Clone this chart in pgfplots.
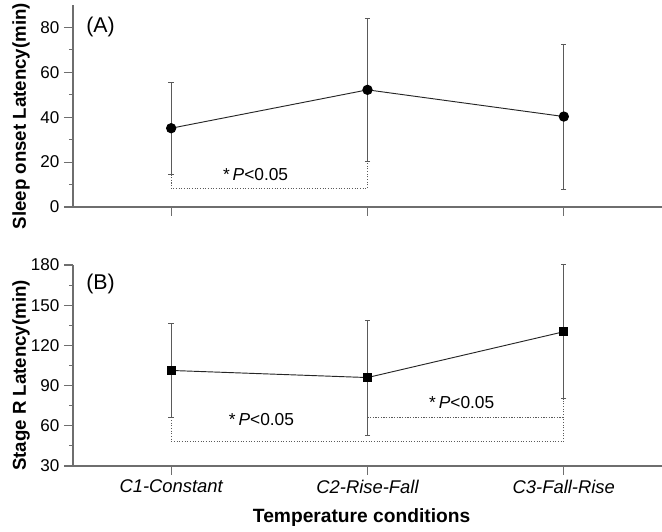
\documentclass[border=0pt]{standalone}
\usepackage{fontspec}
\setmainfont{Liberation Sans}
\setsansfont{Liberation Sans}
\usepackage{pgfplots}
\pgfplotsset{compat=1.18}

\definecolor{axisgray}{HTML}{6E6E6E}
\definecolor{bargray}{HTML}{5A5A5A}

\pgfplotsset{
  panel/.style={
    scale only axis,
    width=441.75pt,
    xmin=0.5, xmax=3.5,
    axis x line*=bottom, axis y line*=left,
    axis line style={axisgray, line width=0.8pt, -},
    tick align=outside,
    major tick length=6.75pt, minor tick length=3pt,
    every tick/.style={axisgray, line width=0.8pt},
    xtick={1,2,3},
    minor y tick num=1,
    tick label style={font=\fontsize{12.8}{14}\selectfont},
    /pgf/number format/assume math mode=true,
    clip=false,
    ylabel style={font=\fontsize{14}{16}\selectfont\bfseries,
      at={(axis description cs:-0.088,0.45)}, anchor=center},
  },
  ebar/.style={forget plot, bargray, only marks, mark=none,
    error bars/.cd, y dir=both, y explicit,
    error bar style={line width=0.8pt, bargray}},
  sig/.style={bargray, line width=0.8pt, dash pattern=on 0.8pt off 1.2pt},
}
\tikzset{
  pnote/.style={font=\fontsize{13}{15}\selectfont},
  plabel/.style={font=\fontsize{16}{18}\selectfont},
}

\begin{document}
\begin{tikzpicture}
\path[use as bounding box] (-54.75pt,-49.5pt) rectangle (441.75pt,349.5pt);

% (A) sleep onset latency
\begin{axis}[panel,
  at={(0pt,194.25pt)}, anchor=south west,
  height=151.5pt,
  ymin=0, ymax=90,
  ytick={0,20,40,60,80},
  xticklabels={},
  ylabel={Sleep onset Latency(min)},
]
\addplot[ebar] coordinates {
  (1,35.1) +- (0,20.5)
  (2,52.2) +- (0,32.0)
  (3,40.3) +- (0,32.2)
};
\addplot[sig] coordinates {(1,14.5) (1,8.3) (2,8.3) (2,20.2)};
\addplot[black!85, line width=0.7pt, mark=*, mark size=3.5pt,
  mark options={black, solid}] coordinates {
  (1,35.1) (2,52.2) (3,40.3)
};
\node[pnote] at (axis cs:1.43,14.5) {*\,\textit{P}<0.05};
\node[plabel] at (axis cs:0.64,80) {(A)};
\end{axis}

% (B) stage R latency
\begin{axis}[panel,
  at={(0pt,0pt)}, anchor=south west,
  height=150.75pt,
  ymin=30, ymax=180,
  ytick={30,60,90,120,150,180},
  xticklabels={C1-Constant, C2-Rise-Fall, C3-Fall-Rise},
  xticklabel style={font=\fontsize{13.8}{15}\selectfont\itshape},
  xlabel={Temperature conditions},
  xlabel style={font=\fontsize{14.4}{16}\selectfont\bfseries,
    at={(axis description cs:0.49,-0.255)}, anchor=center},
  ylabel={Stage R Latency(min)},
]
\addplot[ebar] coordinates {
  (1,101.3) +- (0,35.0)
  (2,96.0) +- (0,42.7)
  (3,130.2) +- (0,50.0)
};
\addplot[sig] coordinates {(1,66.3) (1,48.5) (3,48.5) (3,80.2)};
\addplot[sig] coordinates {(2,66.3) (3,66.3)};
\addplot[black!85, line width=0.7pt, mark=square*, mark size=3pt,
  mark options={black, solid}] coordinates {
  (1,101.3) (2,96.0) (3,130.2)
};
\node[pnote] at (axis cs:1.46,64.5) {*\,\textit{P}<0.05};
\node[pnote] at (axis cs:2.48,77.5) {*\,\textit{P}<0.05};
\node[plabel] at (axis cs:0.64,165.8) {(B)};
\end{axis}
\end{tikzpicture}
\end{document}
